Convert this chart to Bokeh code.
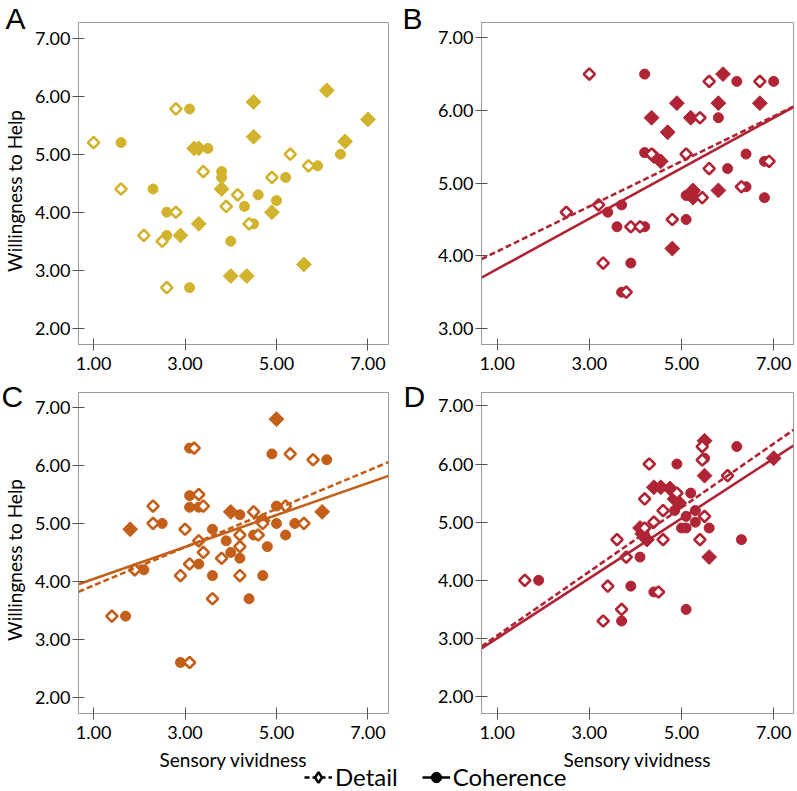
import numpy as np
from bokeh.plotting import figure
from bokeh.layouts import column, row
from bokeh.models import Range1d, FixedTicker, Label, Legend, LegendItem
from bokeh.embed import file_html
from bokeh.resources import INLINE

# ---------------- data ----------------
x_ticks = [1, 3, 5, 7]
x_tick_labels = ["1.00", "3.00", "5.00", "7.00"]
y_ticks_full = [2, 3, 4, 5, 6, 7]
y_tick_labels_full = ["2.00", "3.00", "4.00", "5.00", "6.00", "7.00"]
y_ticks_b = [3, 4, 5, 6, 7]
y_tick_labels_b = ["3.00", "4.00", "5.00", "6.00", "7.00"]

panel_letters = ["A", "B", "C", "D"]
y_title = "Willingness  to Help"
x_title = "Sensory vividness"
legend_labels = ["Detail", "Coherence"]

# Panel A
a_det_x = [1.0, 2.8, 1.6, 3.4, 2.8, 2.1, 2.5, 2.6, 3.9, 4.15, 4.4, 4.9, 5.3, 5.7]
a_det_y = [5.2, 5.78, 4.4, 4.7, 4.0, 3.6, 3.5, 2.7, 4.1, 4.3, 3.8, 4.6, 5.0, 4.8]
a_coh_x = [1.6, 3.1, 2.3, 2.6, 2.6, 3.1, 3.5, 3.8, 3.8, 4.0, 4.3, 4.6, 4.5, 5.0, 5.2, 5.9, 6.4]
a_coh_y = [5.2, 5.78, 4.4, 4.0, 3.6, 2.7, 5.1, 4.7, 4.6, 3.5, 4.1, 4.3, 3.8, 4.2, 4.6, 4.8, 5.0]
a_both_x = [3.2, 3.3, 4.5, 4.5, 6.1, 7.0, 6.5, 3.8, 3.3, 2.9, 4.0, 4.35, 4.9, 5.6]
a_both_y = [5.1, 5.1, 5.9, 5.3, 6.1, 5.6, 5.22, 4.4, 3.8, 3.6, 2.9, 2.9, 4.0, 3.1]

# Panel B
b_det_x = [3.0, 2.5, 3.2, 3.3, 3.8, 3.9, 4.1, 4.35, 4.8, 5.1, 5.4, 5.45, 5.6, 5.6, 6.3, 6.7, 6.9]
b_det_y = [6.5, 4.6, 4.7, 3.9, 3.5, 4.4, 4.4, 5.4, 4.5, 5.4, 5.9, 4.8, 6.4, 5.2, 4.95, 6.4, 5.3]
b_coh_x = [4.2, 4.2, 3.4, 3.7, 3.6, 3.9, 3.7, 4.2, 5.1, 5.1, 5.8, 6.0, 6.2, 6.4, 6.4, 6.8, 6.8, 7.0, 5.25, 4.5]
b_coh_y = [6.5, 5.42, 4.6, 4.7, 4.4, 3.9, 3.5, 4.4, 4.5, 4.83, 5.9, 5.2, 6.4, 5.4, 4.95, 4.8, 5.3, 6.4, 4.87, 5.33]
b_both_x = [4.35, 4.7, 4.9, 4.55, 4.4, 5.2, 5.25, 5.25, 4.8, 5.9, 5.8, 5.8, 6.7]
b_both_y = [5.9, 5.7, 6.1, 5.3, 5.37, 5.9, 4.9, 4.8, 4.1, 6.5, 6.1, 4.9, 6.1]

# Panel C
c_det_x = [1.4, 1.9, 2.3, 2.3, 3.0, 2.9, 3.1, 3.1, 3.2, 3.3, 3.4, 3.3, 3.4, 3.6, 3.8, 4.2, 4.2, 4.2, 4.5, 4.6, 4.7, 5.2, 5.3, 5.6, 5.8]
c_det_y = [3.4, 4.2, 5.3, 5.0, 4.9, 4.1, 4.3, 2.6, 6.3, 5.5, 5.3, 4.7, 4.5, 3.7, 4.4, 4.8, 4.6, 4.1, 5.2, 4.8, 5.0, 5.3, 6.2, 5.0, 6.1]
c_coh_x = [1.7, 2.1, 2.5, 2.9, 3.1, 3.1, 3.1, 3.3, 3.3, 3.6, 3.6, 3.9, 4.0, 4.2, 4.2, 4.4, 4.5, 4.7, 4.8, 4.9, 5.0, 5.0, 5.2, 5.4, 6.1, 4.7]
c_coh_y = [3.4, 4.2, 5.0, 2.6, 6.3, 5.48, 5.28, 5.28, 4.3, 4.9, 4.1, 4.7, 4.5, 4.4, 5.15, 3.7, 4.8, 4.1, 4.6, 6.2, 5.3, 5.0, 4.8, 5.0, 6.1, 5.07]
c_both_x = [1.8, 4.0, 5.0, 6.0, 4.7]
c_both_y = [4.9, 5.2, 6.8, 5.2, 5.05]

# Panel D
d_det_x = [1.6, 3.3, 3.4, 3.7, 3.6, 3.8, 4.2, 4.3, 4.2, 4.4, 4.5, 4.6, 4.6, 4.9, 5.4, 5.5, 5.45, 5.45, 6.0]
d_det_y = [4.0, 3.3, 3.9, 3.5, 4.7, 4.4, 5.4, 6.0, 4.9, 5.0, 3.8, 5.2, 4.7, 5.5, 4.7, 5.1, 6.3, 6.07, 5.8]
d_coh_x = [1.9, 3.7, 3.9, 4.1, 4.4, 4.9, 5.1, 5.0, 5.1, 5.1, 5.2, 5.3, 5.3, 5.5, 5.6, 6.2, 6.3, 4.85]
d_coh_y = [4.0, 3.3, 3.9, 4.4, 3.8, 6.0, 3.5, 4.9, 4.9, 5.1, 5.5, 5.2, 5.0, 6.1, 4.9, 6.3, 4.7, 5.2]
d_both_x = [4.1, 4.25, 4.4, 4.55, 4.75, 4.85, 4.95, 5.5, 5.5, 5.6, 7.0, 4.15]
d_both_y = [4.9, 4.7, 5.6, 5.6, 5.58, 5.4, 5.33, 6.4, 5.8, 4.4, 6.1, 4.8]

# Fit lines (intercept, slope)
b_fit_detail = (3.75, 0.31)
b_fit_coherence = (3.47, 0.347)
c_fit_detail = (3.60, 0.330)
c_fit_coherence = (3.765, 0.276)
d_fit_detail = (2.50, 0.55)
d_fit_coherence = (2.49, 0.515)

# ---------------- styling ----------------
YELLOW = "#D2B32D"
CRIMSON = "#AF2535"
ORANGE = "#C45F19"
FRAME = "#9a9a9a"
TICK = "#555555"
FONT = "Lato"
ROW_H = 747   # both panel rows together
BOT_H = 44    # strip holding x titles and legend


def make_panel(color, det, coh, both, xr, yr, yticks, ylabels,
               width, height, bl, br, bt, bb, fits=None):
    p = figure(width=width, height=height, output_backend="svg",
               toolbar_location=None, x_range=Range1d(*xr), y_range=Range1d(*yr),
               min_border_left=bl, min_border_right=br,
               min_border_top=bt, min_border_bottom=bb)
    p.grid.visible = False
    p.outline_line_color = FRAME
    p.outline_line_width = 1
    p.background_fill_color = "white"
    p.border_fill_color = "white"

    for ax in (p.xaxis[0], p.yaxis[0]):
        ax.axis_line_color = FRAME
        ax.major_tick_line_color = TICK
        ax.major_tick_in = 6
        ax.major_tick_out = 6
        ax.minor_tick_line_color = None
        ax.major_label_text_font = FONT
        ax.major_label_text_font_size = "18px"
        ax.major_label_text_color = "black"
    p.xaxis.ticker = FixedTicker(ticks=x_ticks)
    p.xaxis.major_label_overrides = dict(zip(x_ticks, x_tick_labels))
    p.yaxis.ticker = FixedTicker(ticks=yticks)
    p.yaxis.major_label_overrides = dict(zip(yticks, ylabels))
    p.yaxis.major_label_standoff = 2
    p.xaxis.major_label_standoff = 6

    # markers
    p.scatter(coh[0], coh[1], marker="circle", size=10, fill_color=color,
              line_color=color, line_width=1)
    p.scatter(both[0], both[1], marker="square", angle=np.pi / 4, size=10.5,
              fill_color=color, line_color=color, line_width=1)
    p.scatter(det[0], det[1], marker="square", angle=np.pi / 4, size=8,
              fill_color="white", line_color=color, line_width=2.6)

    if fits is not None:
        xs = np.array([xr[0], xr[1]])
        (di, ds), (ci, cs) = fits
        p.line(xs, di + ds * xs, line_color=color, line_width=2.6, line_dash="6 3")
        p.line(xs, ci + cs * xs, line_color=color, line_width=2.6)
    return p


def strip(width, height):
    s = figure(width=width, height=height, output_backend="svg", toolbar_location=None,
               x_range=Range1d(0, 1), y_range=Range1d(0, 1),
               x_axis_location=None, y_axis_location=None,
               min_border=0, min_border_left=0, min_border_right=0,
               min_border_top=0, min_border_bottom=0)
    s.grid.visible = False
    s.outline_line_color = None
    s.background_fill_color = "white"
    s.border_fill_color = "white"
    return s


def letter(s, text, x, y):
    s.add_layout(Label(x=x, y=y, x_units="screen", y_units="screen", text=text,
                       text_font="Liberation Sans", text_font_size="30px",
                       text_baseline="middle", text_align="left",
                       text_color="black"))


def ytitle(s, x, y):
    s.add_layout(Label(x=x, y=y, x_units="screen", y_units="screen", text=y_title,
                       angle=np.pi / 2, text_font=FONT, text_font_size="19px",
                       text_align="center", text_baseline="middle",
                       text_color="black"))


def xtitle(s, x, y):
    s.add_layout(Label(x=x, y=y, x_units="screen", y_units="screen", text=x_title,
                       text_font=FONT, text_font_size="19px",
                       text_align="center", text_baseline="middle",
                       text_color="black"))


pA = make_panel(YELLOW, (a_det_x, a_det_y), (a_coh_x, a_coh_y), (a_both_x, a_both_y),
                (0.67, 7.45), (1.72, 7.27), y_ticks_full, y_tick_labels_full,
                370, 378, 48, 12, 22, 34)
pB = make_panel(CRIMSON, (b_det_x, b_det_y), (b_coh_x, b_coh_y), (b_both_x, b_both_y),
                (0.66, 7.43), (2.78, 7.21), y_ticks_b, y_tick_labels_b,
                367, 378, 53, 2, 22, 34, fits=(b_fit_detail, b_fit_coherence))
pC = make_panel(ORANGE, (c_det_x, c_det_y), (c_coh_x, c_coh_y), (c_both_x, c_both_y),
                (0.67, 7.45), (1.72, 7.26), y_ticks_full, y_tick_labels_full,
                370, 369, 48, 12, 14, 34, fits=(c_fit_detail, c_fit_coherence))
pD = make_panel(CRIMSON, (d_det_x, d_det_y), (d_coh_x, d_coh_y), (d_both_x, d_both_y),
                (0.66, 7.43), (1.71, 7.23), y_ticks_full, y_tick_labels_full,
                367, 369, 53, 2, 14, 34, fits=(d_fit_detail, d_fit_coherence))

# left strip: panel letters A, C and the y titles
sL = strip(30, ROW_H)
letter(sL, panel_letters[0], 5, ROW_H - 18)
letter(sL, panel_letters[2], 1, ROW_H - 396)
ytitle(sL, 14, ROW_H - 188)
ytitle(sL, 14, ROW_H - 557)

# middle strip: panel letters B, D
sM = strip(28, ROW_H)
letter(sM, panel_letters[1], 2, ROW_H - 18)
letter(sM, panel_letters[3], 3, ROW_H - 396)

# bottom strip: x titles under C and D, then the legend
sBot = strip(795, BOT_H)
xtitle(sBot, 233, 32)
xtitle(sBot, 637, 32)
nan = [np.nan]
leg_det_line = sBot.line(nan, nan, line_color="black", line_width=2.5, line_dash="5 3")
leg_det_mark = sBot.scatter(nan, nan, marker="diamond", size=12,
                            fill_color="white", line_color="black", line_width=2.5)
leg_coh_line = sBot.line(nan, nan, line_color="black", line_width=2.5)
leg_coh_mark = sBot.scatter(nan, nan, marker="circle", size=10, fill_color="black",
                            line_color="black")
legend = Legend(items=[LegendItem(label=legend_labels[0], renderers=[leg_det_line, leg_det_mark]),
                       LegendItem(label=legend_labels[1], renderers=[leg_coh_line, leg_coh_mark])],
                orientation="horizontal", location=(304, 0),
                label_text_font=FONT, label_text_font_size="24px",
                label_text_color="black",
                glyph_width=28, glyph_height=26, label_standoff=3, spacing=24,
                padding=0, margin=0, border_line_color=None,
                background_fill_alpha=0)
sBot.add_layout(legend, "center")

layout = column(row(sL, column(pA, pC), sM, column(pB, pD)), sBot)

open("out.html", "w").write(file_html(layout, INLINE))
